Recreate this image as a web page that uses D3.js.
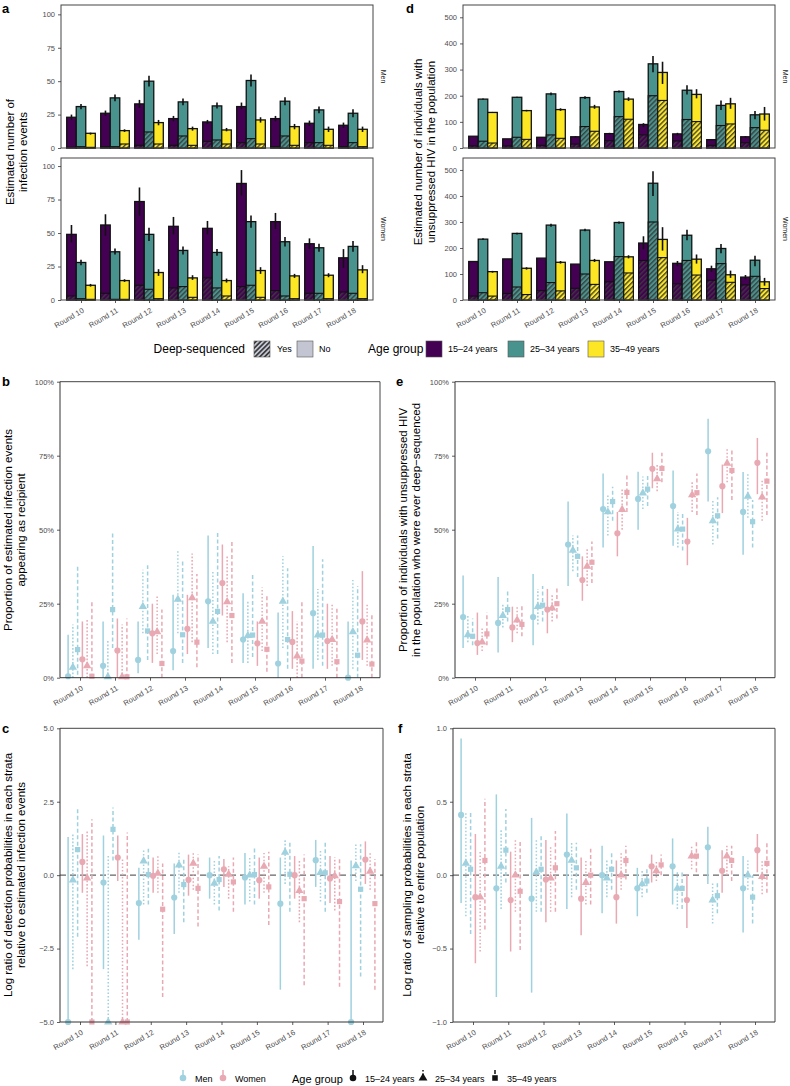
<!DOCTYPE html>
<html>
<head>
<meta charset="utf-8">
<script src="https://cdn.jsdelivr.net/npm/d3@7"></script>
<style>
body { margin: 0; background: #fff; }
text { font-family: "Liberation Sans", Arial, sans-serif; }
</style>
</head>
<body>
<svg id="fig" width="790" height="1086"></svg>
<script>
// ---- data ----
const rounds = ['Round 10','Round 11','Round 12','Round 13','Round 14','Round 15','Round 16','Round 17','Round 18'];
const ageGroups = ['15–24 years','25–34 years','35–49 years'];
const sexes = ['Men','Women'];

// panel a: estimated infection events, [round][age]
const infMenTotal = [[23,31,11],[26,37.5,13],[33,50,19],[22,34.5,14.5],[19.5,31.5,13.5],[31,50.5,21],[22,35,16],[18.5,28.5,14],[17,26,14]];
const infMenDeep  = [[0.5,1,0.5],[1,1,3],[2,12,3],[2,9,2],[5,6,3],[4,7,3],[1,9,2],[4,4,2],[1,4,1]];
const infMenLo    = [[21,29,10],[24,35,12],[30,46,17],[20,32,13],[18,29.5,12.5],[29,46,19],[20,32,14],[16.5,26,12],[15,23,12]];
const infMenHi    = [[25,33,11.5],[28,40,14],[36,54,21],[24,37,16],[21,34,15],[34,55,23],[24,38,18],[20.5,31,16],[19,29,16]];
const infWomenTotal = [[49,28,11],[56,36,14.5],[73.5,49,20.5],[55,37,16.5],[53.5,35.5,14.5],[87,58.5,22],[58.5,43.5,18],[42,39,18.5],[31.5,40,22.5]];
const infWomenDeep  = [[3,1,0.5],[5,0.5,0.5],[11,8,1],[9,10,2],[16.5,9,3],[10,11,2],[7,3,1],[5,5,1],[6,5,1]];
const infWomenLo    = [[43,26,10],[48,34,13.5],[63,44,18],[49,34,15],[49,33,13],[78,54,19.5],[53,40,16.5],[38,36,17],[24,36,20]];
const infWomenHi    = [[56,30,12],[64,38.5,15.5],[84,54,23],[62,40,18.5],[59,38,16],[97,63,24.5],[65,47,19.5],[46,42,20],[38,44,26]];

// panel d: individuals with unsuppressed HIV, [round][age]
const popMenTotal = [[45,187,136],[35,194,143],[41,207,147],[43,193,157],[55,216,187],[90,322,289],[54,221,205],[32,163,169],[43,127,130]];
const popMenDeep  = [[8,26,19],[8,41,33],[10,50,37],[15,82,64],[28,120,110],[50,200,182],[27,109,101],[10,86,92],[20,78,68]];
const popMenLo    = [[45,185,134],[35,192,140],[40,202,142],[41,187,150],[52,212,180],[80,290,245],[48,205,190],[30,145,150],[40,110,105]];
const popMenHi    = [[45,189,138],[35,196,146],[42,212,152],[45,198,165],[58,220,194],[95,352,330],[58,240,225],[34,182,192],[46,142,157]];
const popWomenTotal = [[148,234,109],[158,256,122],[161,288,145],[138,269,152],[147,298,166],[219,449,233],[141,249,157],[120,198,97],[88,153,70]];
const popWomenDeep  = [[15,28,15],[25,50,21],[36,67,35],[45,100,60],[70,167,104],[152,300,163],[62,152,96],[76,140,68],[58,91,44]];
const popWomenLo    = [[148,231,105],[158,252,117],[161,282,140],[138,264,146],[147,293,160],[195,400,190],[130,230,140],[108,180,85],[80,130,55]];
const popWomenHi    = [[148,237,112],[158,259,126],[161,293,150],[138,274,158],[147,302,172],[245,495,280],[150,270,175],[132,215,113],[96,170,85]];

// panels b, c, e, f: [round][Men 15-24, Men 25-34, Men 35-49, Women 15-24, Women 25-34, Women 35-49]
const recipVal = [[0.5,3.5,9.5,6.2,4,0.5],[4,0.3,23,9.2,0.3,0.3],[6,24,15.8,15,15.5,4.8],[9,26.5,14.5,16.5,27,12],[25.8,19,22.4,32,25.6,21],[12.9,14.2,14.4,11.6,19,9.6],[4.8,25.8,12.9,12.1,7.3,5.6],[21.8,14.4,14.4,12.4,12.9,5.4],[0,15.5,7.6,19,12.7,4.6]];
const recipLo  = [[0,0,1,0,0,0],[0,0,10,0,0,0],[1.5,15,6,5,8,0],[2.5,15,5,8,12,3.5],[10,8,8,21,12,5],[5,5,7,4,9,2],[0,10,3,3,0,0],[3,6,4,3,4,0],[0,3,0,6,4,0]];
const recipHi  = [[14.5,18,38,19,20,26],[19,13,49,20,18,20],[19,36.5,38,25,28,23],[28,43,39.5,28,42,35],[48,36,49,45,41,46.5],[28.5,26,35,19,30.5,28],[22,41,37,22.5,19,26],[44.5,30,40,25,25,24],[19,33,31,36,25,21.5]];

const seqVal = [[20.5,14.5,14,11.7,12,14.8],[18.5,21,23,17,19.5,18],[20.5,24,24.5,23,23.5,25],[45,43,41,33,37.6,39],[57,56,59.5,48.8,56.8,62.6],[60.4,62.4,63.7,70.6,67.2,70.7],[58,50.2,50.2,46,61.8,62.5],[76.5,53,54.7,64.7,72.4,70],[56,61.3,52.7,72.6,61,66.4]];
const seqLo  = [[10,12,11,7.7,9,11],[8.5,17,19,12,15,14],[11,18,19,15,19,20],[31,36,34,26,31,32],[44,48,53,41,50,56],[50,57,58,64,63,66],[44.6,44,43,38,56,55],[59.5,45,47,55.6,66,60],[41.5,54,44,62,53,55]];
const seqHi  = [[34.5,21,20,22,17,22],[34,25,29.7,24,24,25],[35,30,31,30,28,31],[59.5,48,48,41,44,46],[69,62,64.5,56,64,69],[69.6,68,69,76,72,76],[70,56,56,54,66,69],[87.5,60,61,72,77.6,77],[69.5,68.8,60,81,67,76]];

const detVal = [[-5,-0.17,0.87,0.45,-0.1,-5],[-0.25,-5,1.56,0.6,-5,-5],[-0.95,0.48,0.02,-0.02,0.06,-1.16],[-0.76,0.34,-0.32,-0.16,0.4,-0.45],[0,-0.28,-0.15,0.2,0.03,-0.23],[-0.08,0,0.02,-0.17,0.3,-0.4],[-0.97,0.78,0.03,0,-0.53,-0.8],[0.51,0.09,0.08,-0.11,-0.02,-0.9],[-5,0.32,-0.48,0.53,0.13,-0.97]];
const detLo  = [[-5,-3.2,-2.1,-0.6,-3.1,-5],[-3.2,-5,0.5,-0.2,-5,-5],[-2.2,-1,-1,-0.6,-0.6,-4.15],[-2,-0.6,-1.6,-0.7,-0.5,-1.75],[-0.8,-1,-1.2,-0.4,-0.8,-1.25],[-1,-0.9,-1,-0.8,-0.6,-1.7],[-3.9,-0.3,-1.25,-0.8,-1.6,-3.75],[-0.4,-0.9,-1.25,-0.95,-1.2,-3.8],[-5,-0.2,-3.45,-0.3,-0.5,-3.9]];
const detHi  = [[1.3,1.4,2.3,1.4,1.5,1.9],[1.35,0.7,2.3,1.35,0.6,1.45],[0.25,0.9,0.9,0.6,0.65,0.4],[0.4,0.8,0.6,0.7,0.8,0.7],[0.6,0.5,0.65,0.55,0.3,0.6],[0.75,0.6,0.95,0.6,0.75,0.8],[0.6,1.25,1.15,0.65,0.5,0.7],[1.2,0.85,1.1,0.65,0.6,0.6],[0.5,1.05,1.05,1.15,0.8,0.55]];

const sampVal = [[0.41,0.08,0.04,-0.15,-0.15,0.1],[-0.09,0.06,0.17,-0.17,0,-0.11],[-0.16,0.02,0.04,-0.03,-0.02,0.05],[0.14,0.1,0.05,-0.16,-0.05,0],[0,-0.02,0.04,-0.15,0,0.1],[-0.09,-0.06,-0.04,0.06,0.03,0.07],[0.06,-0.09,-0.09,-0.17,0.13,0.13],[0.19,-0.17,-0.14,0.03,0.13,0.1],[-0.09,0,-0.15,0.17,-0.01,0.08]];
const sampLo  = [[-0.19,-0.28,-0.4,-0.6,-0.52,-0.37],[-0.83,-0.23,-0.05,-0.52,-0.25,-0.51],[-0.8,-0.25,-0.25,-0.32,-0.25,-0.25],[-0.23,-0.15,-0.1,-0.41,-0.2,-0.2],[-0.26,-0.15,-0.1,-0.33,-0.1,-0.03],[-0.28,-0.15,-0.12,-0.05,-0.04,0],[-0.2,-0.23,-0.23,-0.36,0.04,0.02],[-0.06,-0.33,-0.26,-0.12,0,-0.04],[-0.39,-0.1,-0.33,0.02,-0.13,-0.12]];
const sampHi  = [[0.93,0.43,0.43,0.28,0.17,0.52],[0.55,0.31,0.45,0.16,0.24,0.24],[0.39,0.25,0.28,0.24,0.2,0.3],[0.42,0.22,0.22,0.12,0.1,0.18],[0.2,0.1,0.15,0.1,0.15,0.2],[0.05,0.04,0.05,0.14,0.1,0.14],[0.25,0.02,0.02,0,0.2,0.23],[0.33,-0.05,-0.05,0.17,0.2,0.2],[0.13,0.1,0,0.28,0.1,0.22]];

// ---- styles ----
const ageCol = ['#440154', '#48938e', '#fde725'];
const sexCol = ['#9fd1de', '#e8a9b3'];
const ageDash = [null, '1.6,1.9', '4,2.5'];
const ageShape = [d3.symbolCircle, d3.symbolTriangle, d3.symbolSquare];
const ageSize = [30, 30, 27];

const svg = d3.select('#fig');
const defs = svg.append('defs');

// hatch pattern for deep-sequenced part
ageCol.concat(['#c3c6d2']).forEach(function(c, j) {
  let p = defs.append('pattern')
    .attr('id', 'hatch' + j)
    .attr('patternUnits', 'userSpaceOnUse')
    .attr('width', 3.4).attr('height', 3.4)
    .attr('patternTransform', 'rotate(45)');
  p.append('rect').attr('width', 3.4).attr('height', 3.4).attr('fill', c);
  p.append('line').attr('x1', 0.7).attr('x2', 0.7).attr('y1', 0).attr('y2', 3.4)
    .attr('stroke', '#3a3a3a').attr('stroke-width', j == 3 ? 2 : 1.3);
});

function styleAxis(ax) {
  ax.select('.domain').remove();
  ax.selectAll('.tick line').attr('stroke', '#333').attr('stroke-width', 0.8);
  ax.selectAll('.tick text').attr('font-size', 7.5).attr('fill', '#4d4d4d');
}

function roundAxis(x, yPos) {
  let ax = svg.append('g').attr('transform', 'translate(0,' + yPos + ')')
    .call(d3.axisBottom(x).tickSize(3));
  styleAxis(ax);
  ax.selectAll('.tick text')
    .attr('x', 0).attr('y', 0).attr('dy', 0)
    .attr('text-anchor', 'end')
    .attr('transform', 'translate(3,12) rotate(-30)');
}

function yTitle(lines, bx, cy) {
  let t = svg.append('text')
    .attr('transform', 'translate(' + bx + ',' + cy + ') rotate(-90)')
    .attr('text-anchor', 'middle')
    .attr('font-size', 11.5);
  lines.forEach(function(l, i) {
    t.append('tspan').attr('x', 0).attr('dy', i == 0 ? 0 : '1.15em').text(l);
  });
}

function panelLabel(s, x, y) {
  svg.append('text').attr('x', x).attr('y', y).attr('font-size', 13)
    .attr('font-weight', 'bold').text(s);
}

function border(x0, y0, x1, y1) {
  svg.append('rect').attr('x', x0).attr('y', y0)
    .attr('width', x1 - x0).attr('height', y1 - y0)
    .attr('fill', 'none').attr('stroke', '#444').attr('stroke-width', 1);
}

//Bars with hatched deep-sequenced part
function barFacet(o) {
  let x = d3.scalePoint().domain(rounds).range([o.x0 + 20, o.x1 - 20]);
  let band = d3.scaleBand().domain([0, 1, 2]).range([-14.3, 14.3]);
  let y = d3.scaleLinear().domain([0, o.max]).range([o.y1, o.y0]);
  let g = svg.append('g');

  rounds.forEach(function(r, i) {
    [0, 1, 2].forEach(function(j) {
      let bx = x(r) + band(j);
      g.append('rect')
        .attr('x', bx).attr('y', y(o.total[i][j]))
        .attr('width', band.bandwidth()).attr('height', y(0) - y(o.total[i][j]))
        .attr('fill', ageCol[j]).attr('stroke', '#111').attr('stroke-width', 1.3);
      g.append('rect')
        .attr('x', bx).attr('y', y(o.deep[i][j]))
        .attr('width', band.bandwidth()).attr('height', y(0) - y(o.deep[i][j]))
        .attr('fill', 'url(#hatch' + j + ')').attr('stroke', '#111').attr('stroke-width', 1.1);
      g.append('line')
        .attr('x1', bx + band.bandwidth() / 2).attr('x2', bx + band.bandwidth() / 2)
        .attr('y1', y(o.lo[i][j])).attr('y2', y(o.hi[i][j]))
        .attr('stroke', '#111').attr('stroke-width', 1.6);
    });
  });

  border(o.x0, o.y0, o.x1, o.y1);
  let ay = svg.append('g').attr('transform', 'translate(' + o.x0 + ',0)')
    .call(d3.axisLeft(y).tickValues(o.ticks).tickSize(3));
  styleAxis(ay);
  if (o.showX) roundAxis(x, o.y1);

  svg.append('text')
    .attr('transform', 'translate(' + (o.x1 + 8) + ',' + ((o.y0 + o.y1) / 2) + ') rotate(90)')
    .attr('text-anchor', 'middle').attr('font-size', 7).attr('fill', '#1a1a1a')
    .text(o.strip);
}

//Point ranges by sex and age group
function pointPanel(o) {
  let x = d3.scalePoint().domain(rounds).range([o.x0 + 20, o.x1 - 20]);
  let dodge = d3.scalePoint().domain(d3.range(6)).range([-11.9, 11.9]);
  let y = d3.scaleLinear().domain(o.domain).range([o.y1, o.y0]);
  let g = svg.append('g');

  if (o.zero) {
    g.append('line').attr('x1', o.x0).attr('x2', o.x1)
      .attr('y1', y(0)).attr('y2', y(0))
      .attr('stroke', '#666').attr('stroke-width', 1.1).attr('stroke-dasharray', '6,4');
  }

  rounds.forEach(function(r, i) {
    d3.range(6).forEach(function(k) {
      let age = k % 3, sex = Math.floor(k / 3);
      let cx = x(r) + dodge(k);
      g.append('line')
        .attr('x1', cx).attr('x2', cx)
        .attr('y1', y(o.lo[i][k])).attr('y2', y(o.hi[i][k]))
        .attr('stroke', sexCol[sex]).attr('stroke-width', 1.5)
        .attr('stroke-dasharray', ageDash[age]);
      g.append('path')
        .attr('d', d3.symbol().type(ageShape[age]).size(ageSize[age]))
        .attr('transform', 'translate(' + cx + ',' + y(o.val[i][k]) + ')')
        .attr('fill', sexCol[sex]);
    });
  });

  svg.append('path')
    .attr('d', 'M' + o.x0 + ',' + o.y0 + 'H' + o.x1 + 'V' + o.y1)
    .attr('fill', 'none').attr('stroke', '#444').attr('stroke-width', 1);
  svg.append('path')
    .attr('d', 'M' + o.x0 + ',' + o.y0 + 'V' + o.y1 + 'H' + o.x1)
    .attr('fill', 'none').attr('stroke', '#333').attr('stroke-width', 1);

  let ay = svg.append('g').attr('transform', 'translate(' + o.x0 + ',0)')
    .call(d3.axisLeft(y).tickValues(o.ticks).tickSize(3).tickFormat(o.fmt));
  styleAxis(ay);
  roundAxis(x, o.y1);
}

// ---- panel a ----
panelLabel('a', 2, 13);
barFacet({x0: 61, x1: 373, y0: 5, y1: 148, max: 107, ticks: [0, 25, 50, 75, 100],
  total: infMenTotal, deep: infMenDeep, lo: infMenLo, hi: infMenHi, strip: 'Men', showX: false});
barFacet({x0: 61, x1: 373, y0: 158, y1: 300, max: 106, ticks: [0, 25, 50, 75, 100],
  total: infWomenTotal, deep: infWomenDeep, lo: infWomenLo, hi: infWomenHi, strip: 'Women', showX: true});
yTitle(['Estimated number of', 'infection events'], 14, 152);

// ---- panel d ----
panelLabel('d', 406, 13);
barFacet({x0: 463, x1: 775, y0: 5, y1: 148, max: 547, ticks: [0, 100, 200, 300, 400, 500],
  total: popMenTotal, deep: popMenDeep, lo: popMenLo, hi: popMenHi, strip: 'Men', showX: false});
barFacet({x0: 463, x1: 775, y0: 158, y1: 300, max: 546, ticks: [0, 100, 200, 300, 400, 500],
  total: popWomenTotal, deep: popWomenDeep, lo: popWomenLo, hi: popWomenHi, strip: 'Women', showX: true});
yTitle(['Estimated number of individuals with', 'unsuppressed HIV in the population'], 422, 152);

// ---- middle legend ----
let lg = svg.append('g').attr('font-size', 9);
let ly = 341;
lg.append('text').attr('x', 245).attr('y', ly + 12).attr('text-anchor', 'end').attr('font-size', 12).text('Deep-sequenced');
lg.append('rect').attr('x', 254).attr('y', ly).attr('width', 16).attr('height', 16).attr('fill', 'url(#hatch3)').attr('stroke', '#555').attr('stroke-width', 0.6);
lg.append('text').attr('x', 277).attr('y', ly + 11).text('Yes');
lg.append('rect').attr('x', 297).attr('y', ly).attr('width', 16).attr('height', 16).attr('fill', '#c3c6d2').attr('stroke', '#555').attr('stroke-width', 0.6);
lg.append('text').attr('x', 319).attr('y', ly + 11).text('No');
lg.append('text').attr('x', 368).attr('y', ly + 12).attr('font-size', 12).text('Age group');
let swX = [426, 508, 588];
ageGroups.forEach(function(a, j) {
  lg.append('rect').attr('x', swX[j]).attr('y', ly).attr('width', 16).attr('height', 16)
    .attr('fill', ageCol[j]).attr('stroke', '#555').attr('stroke-width', 0.6);
  lg.append('text').attr('x', swX[j] + 22).attr('y', ly + 11).text(a);
});

// ---- panel b ----
panelLabel('b', 2, 386);
pointPanel({x0: 60, x1: 380, y0: 381.7, y1: 677.7, domain: [0, 100], ticks: [0, 25, 50, 75, 100],
  fmt: function(d) { return d + '%'; }, val: recipVal, lo: recipLo, hi: recipHi, zero: false});
yTitle(['Proportion of estimated infection events', 'appearing as recipient'], 12, 530);

// ---- panel e ----
panelLabel('e', 396, 386);
pointPanel({x0: 455, x1: 775, y0: 381.7, y1: 677.7, domain: [0, 100], ticks: [0, 25, 50, 75, 100],
  fmt: function(d) { return d + '%'; }, val: seqVal, lo: seqLo, hi: seqHi, zero: false});
yTitle(['Proportion of individuals with unsuppressed HIV', 'in the population who were ever deep\u2212sequenced'], 407, 530);

// ---- panel c ----
panelLabel('c', 2, 733);
pointPanel({x0: 60, x1: 383, y0: 728.3, y1: 1022, domain: [-5, 5], ticks: [-5, -2.5, 0, 2.5, 5],
  fmt: d3.format('.1f'), val: detVal, lo: detLo, hi: detHi, zero: true});
yTitle(['Log ratio of detection probabilities in each strata', 'relative to estimated infection events'], 12, 875);

// ---- panel f ----
panelLabel('f', 398, 733);
pointPanel({x0: 453, x1: 775, y0: 728.3, y1: 1022, domain: [-1, 1], ticks: [-1, -0.5, 0, 0.5, 1],
  fmt: d3.format('.1f'), val: sampVal, lo: sampLo, hi: sampHi, zero: true});
yTitle(['Log ratio of sampling probabilities in each strata', 'relative to entire population'], 411, 875);

// ---- bottom legend ----
let bl = svg.append('g').attr('font-size', 9);
let by = 1078;
let sexX = [183, 223];
sexes.forEach(function(s, k) {
  bl.append('line').attr('x1', sexX[k]).attr('x2', sexX[k]).attr('y1', by - 8).attr('y2', by)
    .attr('stroke', sexCol[k]).attr('stroke-width', 1.5);
  bl.append('path').attr('d', d3.symbol().type(d3.symbolCircle).size(34))
    .attr('transform', 'translate(' + sexX[k] + ',' + by + ')').attr('fill', sexCol[k]);
  bl.append('text').attr('x', sexX[k] + 12).attr('y', by + 4).text(s);
});
bl.append('text').attr('x', 292).attr('y', by + 5).attr('font-size', 11).text('Age group');
let shX = [353, 423, 495];
ageGroups.forEach(function(a, j) {
  bl.append('line').attr('x1', shX[j]).attr('x2', shX[j]).attr('y1', by - 8).attr('y2', by)
    .attr('stroke', '#111').attr('stroke-width', 1.5).attr('stroke-dasharray', ageDash[j]);
  bl.append('path').attr('d', d3.symbol().type(ageShape[j]).size(ageSize[j] + 4))
    .attr('transform', 'translate(' + shX[j] + ',' + by + ')').attr('fill', '#111');
  bl.append('text').attr('x', shX[j] + 12).attr('y', by + 4).text(a);
});
</script>
</body>
</html>
